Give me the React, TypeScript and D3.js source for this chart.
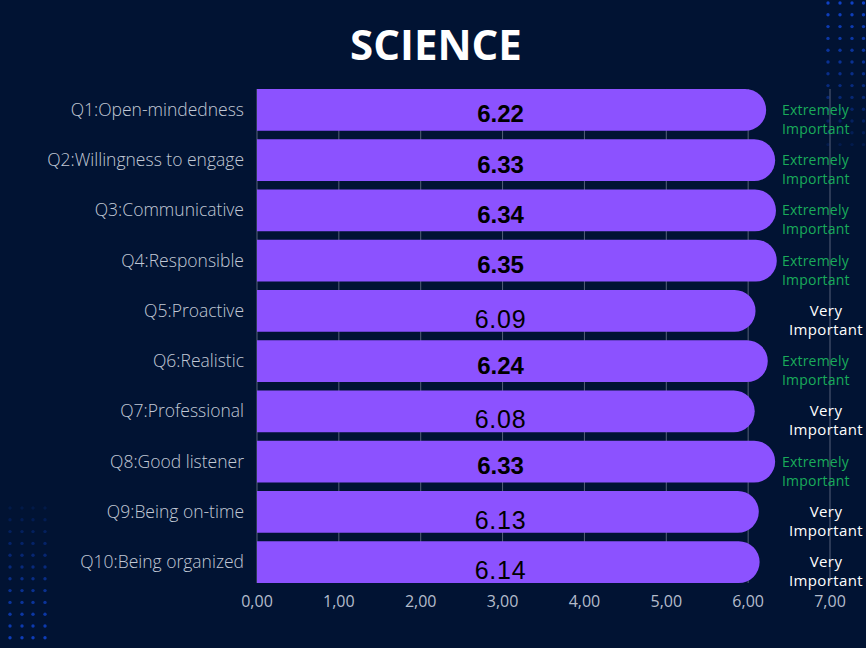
import React from "react";
import * as d3 from "d3";

const categories = [
  "Q1:Open-mindedness",
  "Q2:Willingness to engage",
  "Q3:Communicative",
  "Q4:Responsible",
  "Q5:Proactive",
  "Q6:Realistic",
  "Q7:Professional",
  "Q8:Good listener",
  "Q9:Being on-time",
  "Q10:Being organized",
];
const values = [6.22, 6.33, 6.34, 6.35, 6.09, 6.24, 6.08, 6.33, 6.13, 6.14];
const ratings = [
  "Extremely Important",
  "Extremely Important",
  "Extremely Important",
  "Extremely Important",
  "Very Important",
  "Extremely Important",
  "Very Important",
  "Extremely Important",
  "Very Important",
  "Very Important",
];
const xTicks = [0, 1, 2, 3, 4, 5, 6, 7];
const title = "SCIENCE";

const W = 866;
const H = 648;
const BG = "#011333";
const BAR = "#8c52ff";
const GREEN = "#19ab5a";

export default function App() {
  const x = d3.scaleLinear().domain([0, 7]).range([257, 830]);
  const y = d3
    .scaleBand<string>()
    .domain(categories)
    .range([84.8, 587.2])
    .paddingInner(0.166)
    .paddingOuter(0.083);
  const bw = y.bandwidth();
  const gridTop = y(categories[0])!;
  const gridBottom = y(categories[categories.length - 1])! + bw;
  const fmt = (v: number) => d3.format(".2f")(v).replace(".", ",");

  const barPath = (v: number, top: number) => {
    const x0 = x(0);
    const x1 = x(v);
    const r = bw / 2;
    const p = d3.path();
    p.moveTo(x0, top);
    p.lineTo(x1 - r, top);
    p.arc(x1 - r, top + r, r, -Math.PI / 2, Math.PI / 2);
    p.lineTo(x0, top + bw);
    p.closePath();
    return p.toString();
  };

  const trCols = [828, 840, 852, 863.5];
  const trRows = d3.range(13).map((i) => 3 + i * 11.8);
  const blCols = [10, 22, 33, 45];
  const blRows = d3.range(13).map((i) => 508 + i * 11.8);

  return (
    <svg
      width={W}
      height={H}
      style={{ position: "absolute", left: 0, top: 0, display: "block" }}
    >
      <rect x={0} y={0} width={W} height={H} fill={BG} />
      {trRows.map((ry, i) =>
        trCols.map((cx, j) => (
          <circle
            key={`tr${i}-${j}`}
            cx={cx}
            cy={ry}
            r={1.7}
            fill="#0f41c4"
            opacity={1 - (i / 12) * 0.82}
          />
        ))
      )}
      {blRows.map((ry, i) =>
        blCols.map((cx, j) => (
          <circle
            key={`bl${i}-${j}`}
            cx={cx}
            cy={ry}
            r={1.7}
            fill="#0f41c4"
            opacity={0.15 + (i / 12) * 0.85}
          />
        ))
      )}
      <text
        x={436}
        y={43}
        textAnchor="middle"
        dominantBaseline="central"
        fill="#ffffff"
        fontFamily="'Open Sans', sans-serif"
        fontWeight={700}
        fontSize={42}
      >
        {title}
      </text>
      {xTicks.map((t) => (
        <line
          key={`g${t}`}
          x1={x(t)}
          x2={x(t)}
          y1={gridTop}
          y2={gridBottom}
          stroke="#56617a"
          strokeWidth={1}
        />
      ))}
      {categories.map((c, i) => (
        <path key={`b${i}`} d={barPath(values[i], y(c)!)} fill={BAR} />
      ))}
      {categories.map((c) => (
        <text
          key={`c${c}`}
          x={244}
          y={y(c)! + bw / 2 - 1}
          textAnchor="end"
          dominantBaseline="central"
          fill="#c2c9d6"
          fontFamily="'Open Sans', sans-serif"
          fontWeight={300}
          fontSize={17.5}
        >
          {c}
        </text>
      ))}
      {categories.map((c, i) => {
        const bold = ratings[i].startsWith("Extremely");
        return (
          <text
            key={`v${i}`}
            x={x(3) - 2}
            y={y(c)! + bw / 2 + (bold ? 4 : 8)}
            textAnchor="middle"
            dominantBaseline="central"
            fill="#000000"
            fontFamily="'Liberation Sans', Arial, sans-serif"
            fontWeight={bold ? 700 : 400}
            fontSize={bold ? 24 : 25}
            letterSpacing={bold ? 0 : 0.8}
          >
            {values[i].toFixed(2)}
          </text>
        );
      })}
      {categories.map((c, i) => {
        const ext = ratings[i].startsWith("Extremely");
        const [l1, l2] = ratings[i].split(" ");
        const cy = y(c)! + bw / 2;
        const tx = ext ? 782 : 826;
        return (
          <text
            key={`r${i}`}
            x={tx}
            textAnchor={ext ? "start" : "middle"}
            dominantBaseline="central"
            fill={ext ? GREEN : "#ffffff"}
            fontFamily="'Open Sans', sans-serif"
            fontSize={ext ? 14 : 15}
            letterSpacing={ext ? 0.2 : 0.4}
          >
            <tspan x={tx} y={cy - 1}>
              {l1}
            </tspan>
            <tspan x={tx} y={cy + 18}>
              {l2}
            </tspan>
          </text>
        );
      })}
      {xTicks.map((t) => (
        <text
          key={`t${t}`}
          x={x(t)}
          y={601}
          textAnchor="middle"
          dominantBaseline="central"
          fill="#b4bccb"
          fontFamily="'Open Sans', sans-serif"
          fontSize={16}
        >
          {fmt(t)}
        </text>
      ))}
    </svg>
  );
}
